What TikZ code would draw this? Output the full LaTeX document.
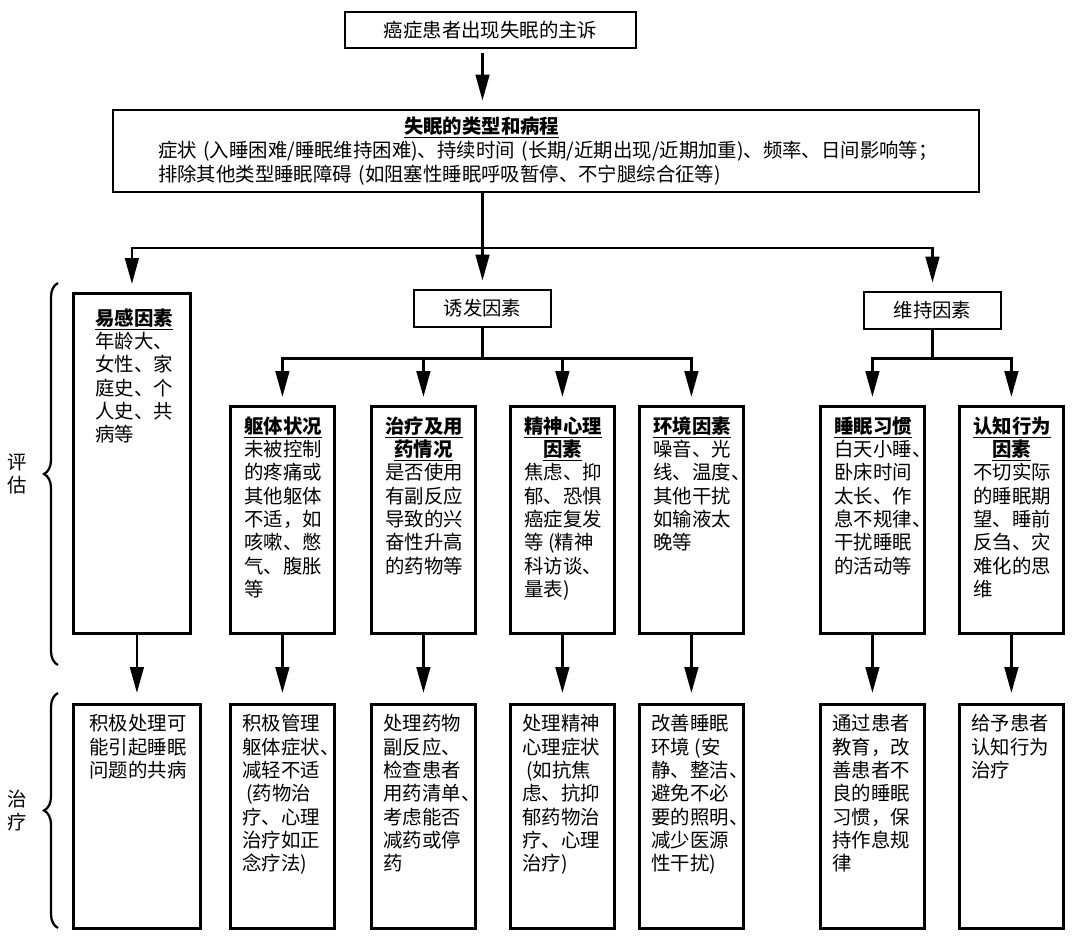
\documentclass[tikz,border=0pt]{standalone}
\usepackage{fontspec}
\setmainfont{Noto Sans CJK SC}
\usepackage{tikz}
\usetikzlibrary{arrows.meta, positioning, calc, decorations.pathreplacing}

\newcommand{\head}[1]{\underline{\textbf{#1}}}
\newcommand{\cell}[3]{\parbox[t][#1][t]{#2}{#3}}

\begin{document}
\begin{tikzpicture}[
    box/.style={rectangle, draw, line width=2pt, font=\fontsize{13.8}{16.6}\selectfont},
    complaintbox/.style={box, minimum width=7.275cm, minimum height=0.9cm, inner sep=0pt},
    coursebox/.style={box, text width=19.4cm, inner xsep=1.125cm, minimum height=2.05cm, align=left, font=\fontsize{13.8}{17.4}\selectfont},
    groupbox/.style={box, minimum width=3.425cm, minimum height=0.925cm, inner sep=0pt},
    factor/.style={box, anchor=north west, inner xsep=0.35cm, inner ysep=0.25cm},
    treat/.style={box, anchor=north west, inner xsep=0.3cm, inner ysep=0.25cm},
    arrow/.style={line width=2pt, -{Triangle[length=0.65cm, width=0.34cm]}, shorten >=0.2cm},
    link/.style={line width=2pt},
    brace/.style={decorate, decoration={brace, amplitude=0.35cm}, line width=1.6pt},
    side/.style={font=\fontsize{13.8}{16.6}\selectfont, align=center}
]
\useasboundingbox (0,0) rectangle (27,-23.525);

% Complaint and course
\node[complaintbox] (complaint) at (12.2625,-0.75) {癌症患者出现失眠的主诉};
\node[coursebox] (course) at (13.65,-3.775) {\hspace*{6.15cm}\head{失眠的类型和病程}\\
    \mbox{症状 (入睡困难/睡眠维持困难)、持续时间 (长期/近期出现/近期加重)、频率、日间影响等；}\\
    \mbox{排除其他类型睡眠障碍 (如阻塞性睡眠呼吸暂停、不宁腿综合征等)}};

% Factor groups
\node[groupbox] (precip) at (12.0625,-7.7125) {诱发因素};
\node[groupbox] (maint) at (23.3125,-7.7625) {维持因素};

% Assessment row
\node[factor, inner xsep=0.55cm, inner ysep=0.375cm] (susc) at (1.8,-7.3) {\cell{7.75cm}{1.825cm}{\head{易感因素}\\
    年龄大、\\女性、家\\庭史、个\\人史、共\\病等}};
\node[factor] (body) at (5.725,-10.125) {\cell{5.175cm}{1.9cm}{\head{躯体状况}\\
    未被控制\\的疼痛或\\其他躯体\\不适，如\\咳嗽、憋\\气、腹胀\\等}};
\node[factor] (drug) at (9.25,-10.125) {\cell{5.175cm}{1.9cm}{{\centering\head{治疗及用}\\\head{药情况}\par}
    是否使用\\有副反应\\导致的兴\\奋性升高\\的药物等}};
\node[factor] (psych) at (12.725,-10.125) {\cell{5.175cm}{1.9cm}{{\centering\head{精神心理}\\\head{因素}\par}
    焦虑、抑\\郁、恐惧\\癌症复发\\等 (精神\\科访谈、\\量表)}};
\node[factor] (env) at (15.95,-10.125) {\cell{5.175cm}{1.9cm}{\head{环境因素}\\
    噪音、光\\线、温度、\\其他干扰\\如输液太\\晚等}};
\node[factor] (habit) at (20.475,-10.125) {\cell{5.175cm}{1.9cm}{\head{睡眠习惯}\\
    白天小睡、\\卧床时间\\太长、作\\息不规律、\\干扰睡眠\\的活动等}};
\node[factor] (cogn) at (23.95,-10.125) {\cell{5.175cm}{1.9cm}{{\centering\head{认知行为}\\\head{因素}\par}
    不切实际\\的睡眠期\\望、睡前\\反刍、灾\\难化的思\\维}};

% Treatment row
\node[treat, inner xsep=0.4cm] (tcomorb) at (1.8,-17.575) {\cell{5.1cm}{2.375cm}{积极处理可\\能引起睡眠\\问题的共病}};
\node[treat] (tbody) at (5.725,-17.575) {\cell{5.1cm}{2.0cm}{积极管理\\躯体症状、\\减轻不适\\
    \hspace*{0.2em}(药物治\\疗、心理\\治疗如正\\念疗法)}};
\node[treat] (tdrug) at (9.25,-17.575) {\cell{5.1cm}{2.0cm}{处理药物\\副反应、\\检查患者\\用药清单、\\考虑能否\\减药或停\\药}};
\node[treat] (tpsych) at (12.725,-17.575) {\cell{5.1cm}{2.0cm}{处理精神\\心理症状\\
    \hspace*{0.2em}(如抗焦\\虑、抗抑\\郁药物治\\疗、心理\\治疗)}};
\node[treat] (tenv) at (15.95,-17.575) {\cell{5.1cm}{2.0cm}{改善睡眠\\环境 (安\\静、整洁、\\避免不必\\要的照明、\\减少医源\\性干扰)}};
\node[treat] (thabit) at (20.475,-17.575) {\cell{5.1cm}{2.0cm}{通过患者\\教育，改\\善患者不\\良的睡眠\\习惯，保\\持作息规\\律}};
\node[treat] (tcogn) at (23.95,-17.575) {\cell{5.1cm}{2.0cm}{给予患者\\认知行为\\治疗}};

% Splitting points
\coordinate (split1) at (precip.north |- 0,-6.2);
\coordinate (split2) at ($(precip.south)+(0,-0.75)$);
\coordinate (split3) at (maint.south |- split2);

% Top connections
\draw[arrow, shorten <=0.1cm] (complaint.south -| split1) -- (course.north -| split1);
\draw[link] (course.south -| split1) -- (split1);
\draw[arrow] (split1) -| (susc.north);
\draw[arrow] (split1) -- (precip.north);
\draw[arrow] (split1) -| (maint.north);

% Precipitating factors
\draw[link] (precip.south) -- (split2);
\draw[arrow] (split2) -| (body.north);
\draw[arrow] (split2) -| (drug.north);
\draw[arrow] (split2) -| (psych.north);
\draw[arrow] (split2) -| (env.north);

% Maintaining factors
\draw[link] (maint.south) -- (split3);
\draw[arrow] (split3) -| (habit.north);
\draw[arrow] (split3) -| (cogn.north);

% Assessment to treatment
\draw[arrow, shorten >=0.25cm] (susc.south -| tcomorb.north) -- (tcomorb.north);
\draw[arrow, shorten >=0.25cm] (body.south) -- (tbody.north);
\draw[arrow, shorten >=0.25cm] (drug.south) -- (tdrug.north);
\draw[arrow, shorten >=0.25cm] (psych.south) -- (tpsych.north);
\draw[arrow, shorten >=0.25cm] (env.south) -- (tenv.north);
\draw[arrow, shorten >=0.25cm] (habit.south) -- (thabit.north);
\draw[arrow, shorten >=0.25cm] (cogn.south) -- (tcogn.north);

% Braces
\draw[brace] (1.45,-16.625) -- node[side, midway, xshift=-1.025cm] (assess) {评\\估} (1.45,-7.075);
\draw[brace] (1.45,-23.2) -- node[side, midway, xshift=-1.025cm] (therapy) {治\\疗} (1.45,-17.325);

\end{tikzpicture}
\end{document}
